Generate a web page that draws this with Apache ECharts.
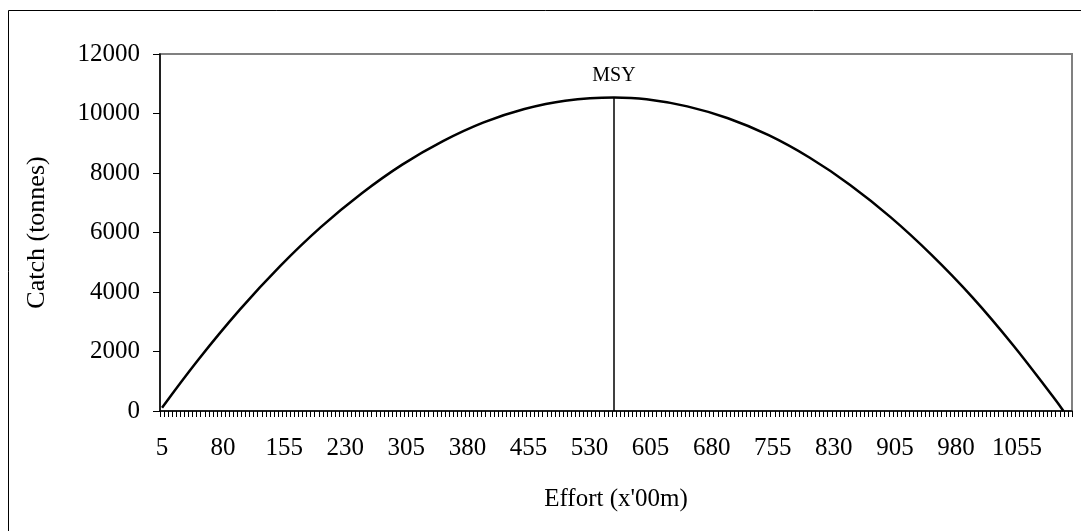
<!DOCTYPE html>
<html>
<head>
<meta charset="utf-8">
<script src="https://cdn.jsdelivr.net/npm/echarts@6/dist/echarts.min.js"></script>
<style>html,body{margin:0;padding:0;background:#fff}#c{width:1081px;height:531px}</style>
</head>
<body>
<div id="c"></div>
<script>
// Effort categories (x'00m), every 5 units
var effortStart = 5, effortStep = 5, effortCount = 224;
var categories = [];
for (var i = 0; i < effortCount; i++) categories.push(String(effortStart + i * effortStep));

// Curve readings: effort vs catch (tonnes)
var effortPts = [5, 50, 100, 150, 200, 250, 300, 350, 400, 450, 500, 560, 600, 650, 700, 750, 800, 850, 900, 950, 1000, 1050, 1100, 1112];
var catchPts  = [110, 1740, 3390, 4870, 6180, 7310, 8280, 9070, 9700, 10150, 10430, 10540, 10480, 10240, 9840, 9270, 8520, 7600, 6510, 5250, 3830, 2220, 450, 0];

var msyEffort = 560, msyCatch = 10540;
var yTicks = [0, 2000, 4000, 6000, 8000, 10000, 12000];

var curve = effortPts.map(function (e, i) { return [e, catchPts[i]]; });

var font = 'Liberation Serif';
var chart = echarts.init(document.getElementById('c'));
chart.setOption({
  animation: false,
  backgroundColor: '#fff',
  graphic: [{
    type: 'rect', shape: { x: 8.5, y: 10.5, width: 1100, height: 600 },
    style: { fill: 'none', stroke: '#000', lineWidth: 1 }, silent: true, z: -1
  }],
  grid: { left: 160, top: 54, right: 9, bottom: 120, show: true, borderColor: '#808080', borderWidth: 2, backgroundColor: 'transparent' },
  xAxis: [{
    type: 'category', data: categories, boundaryGap: true,
    name: "Effort (x'00m)", nameLocation: 'middle', nameGap: 76,
    nameTextStyle: { fontFamily: font, fontSize: 25, color: '#000' },
    axisLine: { lineStyle: { color: '#000', width: 1.5 } },
    axisTick: { show: true, interval: 0, length: 6, lineStyle: { color: '#000', width: 1 } },
    axisLabel: { interval: 14, margin: 25, fontFamily: font, fontSize: 25, color: '#000' },
    splitLine: { show: false }
  }, {
    type: 'value', min: 2.5, max: 1122.5, show: false, position: 'bottom'
  }],
  yAxis: {
    type: 'value', min: yTicks[0], max: yTicks[yTicks.length - 1], interval: 2000,
    name: 'Catch (tonnes)', nameLocation: 'middle', nameGap: 110, nameRotate: 90,
    nameTextStyle: { fontFamily: font, fontSize: 26, color: '#000' },
    axisLine: { show: true, lineStyle: { color: '#000', width: 1.5 } },
    axisTick: { show: true, length: 7, lineStyle: { color: '#000' } },
    axisLabel: { margin: 20, fontFamily: font, fontSize: 25, color: '#000', formatter: function (v) { return String(v); } },
    splitLine: { show: false }
  },
  series: [{
    type: 'line', xAxisIndex: 1, data: curve, smooth: 0.4, symbol: 'none',
    lineStyle: { color: '#000', width: 2.5 },
    markLine: {
      silent: true, symbol: ['none', 'none'],
      lineStyle: { color: '#000', width: 1.5, type: 'solid' },
      label: { show: true, position: 'end', formatter: 'MSY', fontFamily: font, fontSize: 20, color: '#000', distance: 12 },
      data: [[{ coord: [msyEffort, 0] }, { coord: [msyEffort, msyCatch] }]]
    }
  }]
});
</script>
</body>
</html>
